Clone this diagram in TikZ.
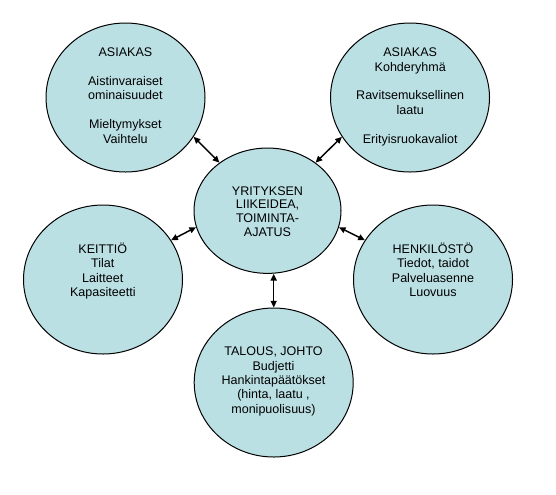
\documentclass[tikz,border=0pt]{standalone}
\usepackage{fontspec}
\setmainfont{Liberation Sans}
\usetikzlibrary{shapes.geometric,arrows.meta}
\definecolor{cfill}{RGB}{187,224,228}
\newcommand{\ctext}[1]{\begin{tabular}[t]{@{}c@{}}#1\end{tabular}}
\begin{document}
\begin{tikzpicture}[x=0.75pt,y=-0.75pt,
  bubble/.style={ellipse,draw=black,line width=0.75pt,fill=cfill,inner sep=0pt,
    minimum width=119.25pt,minimum height=111.75pt},
  hub/.style={bubble,minimum width=110.25pt,minimum height=94pt},
  txt/.style={anchor=base,inner sep=0pt,font=\fontsize{9.4}{10.8}\selectfont},
  link/.style={{Triangle[length=5pt,width=4.5pt]}-{Triangle[length=5pt,width=4.5pt]},line width=1.1pt}]
\useasboundingbox (0,0) rectangle (556,494);
\node[bubble] (tl) at (125.5,97.5) {};
\node[bubble] (tr) at (410,97.5) {};
\node[hub] (c) at (267.5,210.7) {};
\node[bubble] (k) at (103,279.5) {};
\node[bubble] (h) at (433,279.5) {};
\node[bubble] (t) at (273.7,382.5) {};
\node[txt] (tlt) at (125.4,56.7) {\ctext{ASIAKAS\\ \\ Aistinvaraiset\\ ominaisuudet\\ \\ Mieltymykset\\ Vaihtelu}};
\node[txt] (trt) at (410.2,56.7) {\ctext{ASIAKAS\\ Kohderyhmä\\ \\ Ravitsemuksellinen\\ laatu\\ \\ Erityisruokavaliot}};
\node[txt,font=\fontsize{9.4}{10.4}\selectfont] (ct) at (267.5,195) {\ctext{YRITYKSEN\\ LIIKEIDEA,\\ TOIMINTA-\\ AJATUS}};
\node[txt] (kt) at (102.8,253.3) {\ctext{KEITTIÖ\\ Tilat\\ Laitteet\\ Kapasiteetti}};
\node[txt] (ht) at (433,253.3) {\ctext{HENKILÖSTÖ\\ Tiedot, taidot\\ Palveluasenne\\ Luovuus}};
\node[txt] (tt) at (273.5,355.7) {\ctext{TALOUS, JOHTO\\ Budjetti\\ Hankintapäätökset\\ (hinta, laatu ,\\ monipuolisuus)}};
\draw[link] (tl.-30) -- (c.135);
\draw[link] (c.45) -- (tr.210);
\draw[link] (k.30) -- (c.193);
\draw[link] (c.-13) -- (h.150);
\draw[link] (c.south -| t.north) -- (t.north);
\end{tikzpicture}
\end{document}
